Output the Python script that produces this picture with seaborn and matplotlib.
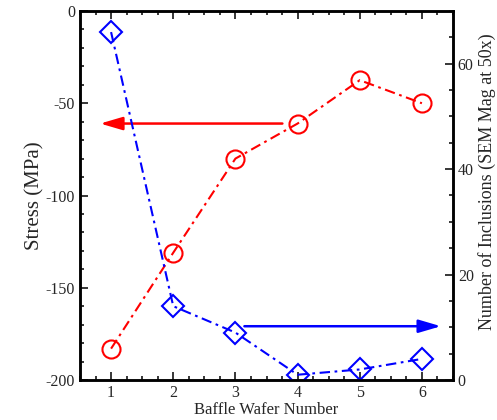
import matplotlib
matplotlib.use("Agg")
import matplotlib.pyplot as plt
import seaborn as sns
import pandas as pd
from matplotlib.ticker import MultipleLocator

wafer = [1, 2, 3, 4, 5, 6]
stress = [-183, -131, -80, -61, -37.5, -50]
inclusions = [66, 14, 9, 1, 2, 4]

sns.set_style("ticks")
plt.rcParams['font.family'] = ['Liberation Serif', 'DejaVu Serif']
plt.rcParams['axes.unicode_minus'] = False

fig = plt.figure(figsize=(4.97, 4.2), dpi=100)
ax = fig.add_axes([80/497, 40/420, 373/497, 369/420])
ax2 = ax.twinx()

df1 = pd.DataFrame({"wafer": wafer, "stress": stress})
df2 = pd.DataFrame({"wafer": wafer, "inc": inclusions})

dash = (0, (5, 2.2, 1.3, 2.2))
sns.lineplot(data=df1, x="wafer", y="stress", ax=ax, color="red", linestyle=dash,
             lw=1.5, marker="o", markersize=13, markerfacecolor="none", markeredgecolor="red",
             markeredgewidth=1.5)
sns.lineplot(data=df2, x="wafer", y="inc", ax=ax2, color="blue", linestyle=dash,
             lw=1.5, marker="D", markersize=11, markerfacecolor="none", markeredgecolor="blue",
             markeredgewidth=1.5)

ax.set_xlim(0.5, 6.5)
ax.set_ylim(-200, 0)
ax2.set_ylim(0, 70)

astyle = "-|>,head_length=0.75,head_width=0.22"
ax.annotate("", xy=(0.78, -61), xytext=(3.8, -61),
            arrowprops=dict(arrowstyle=astyle, color="red", lw=1.8, mutation_scale=18))
ax2.annotate("", xy=(6.35, 10.2), xytext=(3.1, 10.2),
             arrowprops=dict(arrowstyle=astyle, color="blue", lw=1.8, mutation_scale=18))

ax.xaxis.set_major_locator(MultipleLocator(1))
ax.xaxis.set_minor_locator(MultipleLocator(0.25))
ax.yaxis.set_major_locator(MultipleLocator(50))
ax.yaxis.set_minor_locator(MultipleLocator(10))
ax2.yaxis.set_major_locator(MultipleLocator(20))
ax2.yaxis.set_minor_locator(MultipleLocator(5))

ax.tick_params(axis="both", which="both", direction="in", top=True, labelsize=11.5, width=1.3)
ax.tick_params(axis="x", which="major", length=6)
ax.tick_params(axis="x", which="minor", length=3)
ax.tick_params(axis="y", which="major", length=6)
ax.tick_params(axis="y", which="minor", length=3)
ax2.tick_params(axis="y", which="both", direction="in", labelsize=11.5, width=1.3)
ax2.tick_params(axis="y", which="major", length=6)
ax2.tick_params(axis="y", which="minor", length=3)

ax.set_xlabel("Baffle Wafer Number", fontsize=12, labelpad=1)
ax.set_ylabel("Stress (MPa)", fontsize=15, labelpad=1)
ax2.set_ylabel("Number of Inclusions (SEM Mag at 50x)", fontsize=13, va="center")
ax2.yaxis.set_label_coords(1.092, 0.537)

for a in (ax, ax2):
    for s in a.spines.values():
        s.set_linewidth(1.8)
        s.set_color("black")

fig.savefig("out.png", dpi=100)
